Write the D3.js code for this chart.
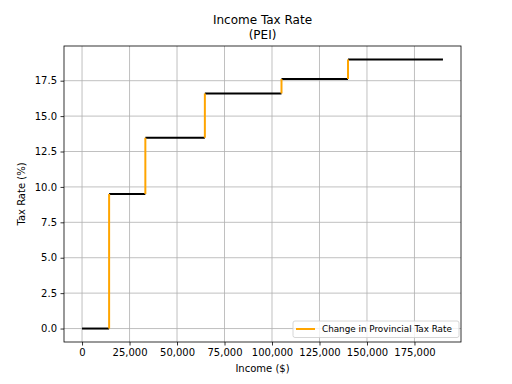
<!DOCTYPE html>
<html>
<head>
<meta charset="utf-8">
<script src="https://cdn.jsdelivr.net/npm/d3@7"></script>
<style>
  body { margin: 0; background: #fff; }
  text { font-family: "DejaVu Sans", sans-serif; }
</style>
</head>
<body>
<div id="chart"></div>
<script>
// bracket edges (income) and the rate inside each bracket
let brackets = [0, 14250, 33328, 64656, 105000, 140000, 190000];
let rates = [0, 9.5, 13.47, 16.6, 17.62, 19.0];
let xTicks = [0, 25000, 50000, 75000, 100000, 125000, 150000, 175000];
let yTicks = [0, 2.5, 5, 7.5, 10, 12.5, 15, 17.5];

let width = 512;
let height = 384;
let mLeft = 64, mRight = 461, mTop = 46, mBottom = 342;

let x = d3.scaleLinear().domain([-9500, 199500]).range([mLeft, mRight]);
let y = d3.scaleLinear().domain([-0.95, 19.95]).range([mBottom, mTop]);

let svg = d3.select("#chart").append("svg")
  .attr("width", width)
  .attr("height", height);

// grid
svg.append("g").selectAll("line")
  .data(xTicks).enter().append("line")
  .attr("x1", d => x(d)).attr("x2", d => x(d))
  .attr("y1", mTop).attr("y2", mBottom)
  .attr("stroke", "#b0b0b0").attr("stroke-width", 0.8);
svg.append("g").selectAll("line")
  .data(yTicks).enter().append("line")
  .attr("x1", mLeft).attr("x2", mRight)
  .attr("y1", d => y(d)).attr("y2", d => y(d))
  .attr("stroke", "#b0b0b0").attr("stroke-width", 0.8);

// steps: black levels, orange jumps
let levels = rates.map((r, i) => ({x0: brackets[i], x1: brackets[i + 1], r: r}));
svg.append("g").selectAll("line")
  .data(levels).enter().append("line")
  .attr("x1", d => x(d.x0)).attr("x2", d => x(d.x1))
  .attr("y1", d => y(d.r)).attr("y2", d => y(d.r))
  .attr("stroke", "#000").attr("stroke-width", 2);

let jumps = rates.slice(1).map((r, i) => ({x: brackets[i + 1], r0: rates[i], r1: r}));
svg.append("g").selectAll("line")
  .data(jumps).enter().append("line")
  .attr("x1", d => x(d.x)).attr("x2", d => x(d.x))
  .attr("y1", d => y(d.r0)).attr("y2", d => y(d.r1))
  .attr("stroke", "orange").attr("stroke-width", 2);

// axes
let xAxis = svg.append("g")
  .attr("transform", "translate(0," + mBottom + ")")
  .call(d3.axisBottom(x).tickValues(xTicks).tickSizeOuter(0).tickSize(3.5).tickPadding(3.5)
    .tickFormat(d3.format(",")));
let yAxis = svg.append("g")
  .attr("transform", "translate(" + mLeft + ",0)")
  .call(d3.axisLeft(y).tickValues(yTicks).tickSizeOuter(0).tickSize(3.5).tickPadding(3.5)
    .tickFormat(d3.format(".1f")));
[xAxis, yAxis].forEach(a => {
  a.select(".domain").remove();
  a.selectAll("line").attr("stroke-width", 0.8);
  a.selectAll("text").style("font-size", "10px").style("font-family", "DejaVu Sans").attr("fill", "#000");
});

// frame
svg.append("rect")
  .attr("x", mLeft).attr("y", mTop)
  .attr("width", mRight - mLeft).attr("height", mBottom - mTop)
  .attr("fill", "none").attr("stroke", "#000").attr("stroke-width", 0.8);

// titles
svg.append("text").attr("x", (mLeft + mRight) / 2).attr("y", 24)
  .attr("text-anchor", "middle").style("font-size", "12px").text("Income Tax Rate");
svg.append("text").attr("x", (mLeft + mRight) / 2).attr("y", 38.5)
  .attr("text-anchor", "middle").style("font-size", "12px").text("(PEI)");
svg.append("text").attr("x", (mLeft + mRight) / 2).attr("y", 372)
  .attr("text-anchor", "middle").style("font-size", "10px").text("Income ($)");
svg.append("text")
  .attr("transform", "translate(25," + (mTop + mBottom) / 2 + ") rotate(-90)")
  .attr("text-anchor", "middle").style("font-size", "10px").text("Tax Rate (%)");

// legend
let lg = svg.append("g");
lg.append("rect").attr("x", 293).attr("y", 321).attr("width", 166).attr("height", 16.5)
  .attr("rx", 2).attr("fill", "#fff").attr("fill-opacity", 0.8)
  .attr("stroke", "#cccccc").attr("stroke-width", 0.8);
lg.append("line").attr("x1", 296).attr("x2", 315).attr("y1", 329).attr("y2", 329)
  .attr("stroke", "orange").attr("stroke-width", 2);
lg.append("text").attr("x", 322).attr("y", 332)
  .style("font-size", "8.8px").text("Change in Provincial Tax Rate");
</script>
</body>
</html>
